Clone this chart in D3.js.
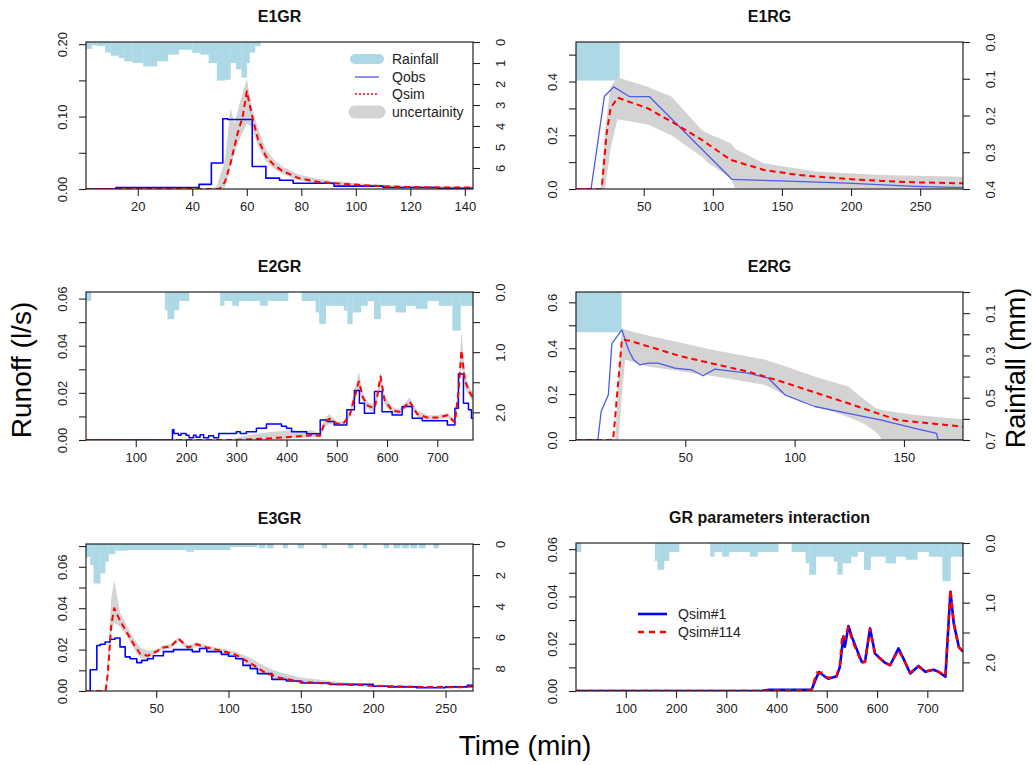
<!DOCTYPE html>
<html>
<head>
<meta charset="utf-8">
<script src="https://cdn.jsdelivr.net/npm/d3@7"></script>
<style>
  body { margin: 0; background: #fff; }
</style>
</head>
<body>
<script>
// ---- data ----
// rainfall: [start minute, depth mm] steps (depth holds until next start)
const e1grRain = [[1,0.33],[3,0.16],[5,0.2],[8,0.5],[10,0.65],[13,0.76],[15,0.92],[18,1.0],[22,1.16],[27,0.92],[31,0.6],[35,0.37],[40,0.52],[43,0.6],[46,1.0],[49,1.84],[52,1.8],[54,1.0],[56,1.3],[58,1.7],[60,1.0],[61,0.5],[63,0.2],[65,0]];
const e1grQobs = [[1,0],[12,0.002],[42.5,0.0064],[47,0.036],[51.2,0.097],[53,0.096],[62,0.031],[67,0.015],[72,0.012],[77,0.008],[92,0.004],[110,0.002],[130,0.001],[143,0.001]];
const e1grQsim = [[1,0],[50,0],[52,0.01],[54,0.035],[56.5,0.075],[58.5,0.1],[60,0.135],[62,0.1],[64,0.07],[67,0.045],[70,0.033],[73,0.025],[79,0.015],[86,0.01],[92,0.008],[104,0.005],[116,0.003],[130,0.002],[143,0.002]];
// uncertainty band: [minute, low, high]
const e1grBand = [[1,0,0],[47,0,0],[49,0,0.004],[52,0.002,0.04],[54,0.03,0.112],[55.5,0.05,0.09],[57.5,0.07,0.12],[60,0.09,0.152],[62,0.085,0.11],[64,0.06,0.085],[67,0.038,0.055],[70,0.028,0.04],[73,0.021,0.031],[79,0.012,0.02],[86,0.008,0.014],[92,0.006,0.011],[104,0.003,0.007],[116,0.002,0.005],[130,0.001,0.004],[143,0.001,0.003]];

const e1rgRain = [[1,0.105],[32.4,0]];
const e1rgQobs = [[1,0],[11.9,0],[21.5,0.344],[28.3,0.38],[39.6,0.344],[54,0.344],[113.8,0.036],[149,0.03],[197,0.022],[246,0.01],[281,0.005]];
const e1rgQsim = [[1,0],[19.6,0],[23,0.2],[26,0.3],[31,0.34],[53,0.3],[72,0.245],[92,0.183],[113,0.108],[137,0.071],[162,0.052],[198,0.037],[222,0.03],[246,0.025],[281,0.021]];
const e1rgBand = [[1,0,0],[19,0,0],[22,0,0.22],[26,0.15,0.38],[31,0.26,0.416],[53,0.24,0.38],[70,0.2,0.344],[92,0.12,0.22],[96,0.1,0.207],[113,0.04,0.17],[116,0.003,0.15],[137,0.002,0.096],[174,0.002,0.065],[222,0.002,0.052],[281,0.002,0.046]];

// E2 event rainfall (same storm in E2GR and the interaction panel)
const e2Rain = [[1,0.15],[11,0],[158,0.3],[163,0.45],[176,0.3],[186,0.15],[206,0],[268,0.23],[276,0.15],[292,0.23],[305,0.15],[347,0.23],[362,0.15],[403,0],[430,0.15],[458,0.34],[465,0.53],[478,0.23],[514,0.31],[521,0.53],[531,0.34],[548,0.23],[561,0.15],[574,0.45],[587,0.23],[617,0.34],[637,0.23],[657,0.28],[680,0.15],[703,0.23],[730,0.64],[746,0.23],[772,0]];
const e2grQobs = [[1,0],[173,0.0043],[176,0.0028],[185,0.002],[190,0.0028],[200,0.002],[206,0.001],[215,0.002],[220,0.0012],[228,0.0022],[235,0.001],[245,0.0018],[255,0.001],[265,0.0028],[300,0.0035],[308,0.0028],[320,0.0035],[340,0.005],[360,0.0068],[390,0.0058],[400,0.005],[410,0.0035],[440,0.0026],[467,0.0085],[480,0.0078],[495,0.0064],[520,0.0128],[535,0.021],[545,0.0156],[555,0.0113],[575,0.0206],[590,0.012],[610,0.0106],[630,0.0142],[650,0.0092],[670,0.0082],[720,0.0064],[735,0.0135],[742,0.028],[752,0.0156],[762,0.0128],[768,0.0092],[772,0.0092]];
const e2grQsim = [[1,0],[300,0],[350,0.0005],[400,0.0012],[450,0.002],[467,0.0018],[475,0.007],[485,0.009],[500,0.007],[512,0.0068],[525,0.01],[535,0.018],[544,0.0248],[552,0.018],[562,0.0145],[575,0.0135],[580,0.018],[587,0.027],[595,0.017],[610,0.0125],[625,0.012],[645,0.0163],[660,0.011],[680,0.0095],[700,0.0095],[720,0.0105],[735,0.0075],[742,0.02],[748,0.038],[755,0.025],[765,0.02],[771,0.018]];
const e2grBand = [[1,0,0],[290,0,0],[300,0,0.001],[350,0,0.003],[400,0.0005,0.004],[450,0.0012,0.004],[467,0.001,0.003],[475,0.005,0.009],[485,0.007,0.011],[500,0.006,0.008],[512,0.006,0.008],[525,0.009,0.012],[535,0.016,0.021],[544,0.021,0.029],[552,0.016,0.02],[562,0.013,0.016],[575,0.012,0.015],[580,0.016,0.02],[587,0.023,0.029],[595,0.015,0.019],[610,0.011,0.014],[625,0.011,0.013],[645,0.0145,0.018],[660,0.0098,0.0125],[680,0.0085,0.0105],[700,0.0085,0.0105],[720,0.0095,0.0115],[735,0.0065,0.0085],[742,0.017,0.024],[748,0.033,0.046],[755,0.022,0.028],[765,0.018,0.022],[771,0.016,0.02]];

const e2rgRain = [[0,0.19],[20.7,0]];
const e2rgQobs = [[0,0],[10,0],[11.5,0.124],[14.8,0.197],[16.4,0.42],[21,0.48],[24,0.393],[26.3,0.35],[29.3,0.327],[33,0.335],[37.6,0.335],[45.2,0.313],[52.8,0.306],[58.1,0.28],[63.5,0.309],[78.7,0.291],[87.9,0.27],[95.5,0.197],[109.2,0.146],[124.5,0.116],[139.7,0.087],[155,0.051],[164.9,0.029],[165.6,0],[177,0]];
const e2rgQsim = [[0,0],[17,0],[21,0.437],[24,0.434],[48.3,0.364],[78.7,0.298],[93.9,0.255],[124.5,0.16],[147,0.087],[177,0.058]];
const e2rgBand = [[0,0,0],[18,0,0],[19.5,0,0.3],[21,0.2,0.488],[22.5,0.35,0.48],[33,0.32,0.455],[64,0.277,0.39],[86.5,0.24,0.35],[94,0.204,0.327],[109,0.15,0.277],[124.5,0.1,0.233],[132,0.07,0.175],[137,0.036,0.14],[140,0.003,0.131],[155,0.003,0.109],[177,0.003,0.09]];

const e3grRain = [[1.5,0.82],[4.4,1.35],[6.7,2.54],[11.3,1.9],[14.7,1.14],[17,0.65],[21.6,0.43],[29.7,0.39],[71,0.5],[75.8,0.39],[101,0.2],[119.6,0],[120.8,0.28],[125.4,0],[126.5,0.28],[131.1,0],[137.6,0.28],[140.8,0],[147.9,0.28],[151.9,0],[164.6,0.28],[168,0],[182.5,0.28],[186,0],[193,0.28],[195.7,0],[207.2,0.28],[210.7,0],[214,0.28],[218.7,0],[219.8,0.28],[224.5,0],[225.6,0.28],[230.2,0],[231.4,0.28],[236,0],[241.8,0.28],[245.2,0]];
const e3grQobs = [[1.5,0],[4.4,0.0103],[9,0.022],[11.3,0.0226],[14.7,0.0237],[18.2,0.025],[21.6,0.0256],[25,0.0213],[28.6,0.0165],[32,0.0156],[36.6,0.0137],[40,0.0148],[44,0.0156],[48,0.017],[55,0.019],[62,0.02],[75,0.019],[80,0.0205],[85,0.019],[95,0.0177],[100,0.0168],[105,0.0156],[110,0.0124],[115,0.0108],[120,0.0084],[130,0.0056],[140,0.0048],[150,0.0039],[170,0.0032],[200,0.0023],[210,0.002],[230,0.0016],[250,0.002],[265,0.0027],[269,0.0027]];
const e3grQsim = [[1.5,0],[15,0],[16.5,0.008],[19,0.032],[21,0.04],[25,0.034],[30,0.028],[35,0.022],[39,0.018],[44,0.017],[50,0.019],[55,0.021],[60,0.0215],[65.5,0.0253],[72,0.021],[78,0.0226],[85,0.021],[95,0.0195],[105,0.0175],[115,0.0135],[125,0.009],[135,0.0065],[150,0.0045],[175,0.0033],[200,0.0025],[230,0.002],[260,0.0018],[269,0.0022]];
const e3grBand = [[1.5,0,0],[15,0,0],[16.5,0.004,0.015],[19,0.028,0.045],[21,0.033,0.0535],[25,0.031,0.038],[30,0.026,0.031],[35,0.02,0.025],[39,0.016,0.021],[44,0.0155,0.0195],[50,0.018,0.02],[55,0.0198,0.0222],[60,0.0205,0.0225],[65.5,0.024,0.026],[72,0.0198,0.022],[78,0.0215,0.0235],[85,0.02,0.022],[95,0.0185,0.0205],[105,0.016,0.019],[115,0.012,0.016],[125,0.008,0.012],[135,0.0055,0.009],[150,0.0038,0.0065],[175,0.0028,0.0045],[200,0.0021,0.0032],[230,0.0017,0.0025],[260,0.0015,0.0022],[269,0.0019,0.0026]];

const qsim1 = [[1,0],[370,0],[385,0.0005],[465,0.0005],[470,0.0006],[480,0.006],[484.6,0.008],[496.6,0.006],[503,0.0052],[519.6,0.0062],[526,0.0102],[533,0.023],[536,0.0187],[543,0.0275],[549.6,0.023],[569.6,0.0123],[576,0.0123],[586,0.0265],[596,0.0158],[616,0.0119],[626,0.0109],[642.6,0.018],[652.6,0.0137],[666,0.0074],[682.6,0.0106],[696,0.0081],[712.6,0.009],[722.6,0.0081],[736,0.006],[746,0.042],[752.6,0.0286],[762.6,0.0187],[771,0.0166]];
const qsim114 = [[1,0],[370,0],[385,0.0003],[465,0.0003],[470,0.0008],[480,0.0078],[484.6,0.0075],[490,0.0078],[496.6,0.0062],[503,0.0055],[519.6,0.0065],[526,0.011],[531,0.024],[536,0.022],[543,0.027],[549.6,0.022],[569.6,0.0118],[576,0.0125],[586,0.0262],[596,0.0155],[616,0.0118],[626,0.011],[642.6,0.0172],[652.6,0.0135],[666,0.0078],[682.6,0.0104],[696,0.0082],[712.6,0.0092],[722.6,0.0082],[736,0.0062],[746,0.043],[752.6,0.0288],[762.6,0.0185],[771,0.0168]];

// tick values and their printed text ("" = tick without label)
const e1grXTicks = [20,40,60,80,100,120,140];
const e1grYTicks = [0,0.05,0.1,0.15,0.2], e1grYText = ["0.00","","0.10","","0.20"];
const e1grRTicks = [0,1,2,3,4,5,6], e1grRText = ["0","1","2","3","4","5","6"];
const e1rgXTicks = [50,100,150,200,250];
const e1rgYTicks = [0,0.1,0.2,0.3,0.4,0.5], e1rgYText = ["0.0","","0.2","","0.4",""];
const e1rgRTicks = [0,0.1,0.2,0.3,0.4], e1rgRText = ["0.0","0.1","0.2","0.3","0.4"];
const e2XTicks = [100,200,300,400,500,600,700];
const e2YTicks = [0,0.01,0.02,0.03,0.04,0.05,0.06], e2YText = ["0.00","","0.02","","0.04","","0.06"];
const e2RTicks = [0,0.5,1,1.5,2], e2RText = ["0.0","","1.0","","2.0"];
const e2rgXTicks = [50,100,150];
const e2rgYTicks = [0,0.1,0.2,0.3,0.4,0.5,0.6], e2rgYText = ["0.0","","0.2","","0.4","","0.6"];
const e2rgRTicks = [0,0.1,0.2,0.3,0.4,0.5,0.6,0.7], e2rgRText = ["","0.1","","0.3","","0.5","","0.7"];
const e3grXTicks = [50,100,150,200,250];
const e3grYTicks = [0,0.01,0.02,0.03,0.04,0.05,0.06,0.07], e3grYText = ["0.00","","0.02","","0.04","","0.06",""];
const e3grRTicks = [0,2,4,6,8], e3grRText = ["0","2","4","6","8"];

const FONT = "'Liberation Sans', Arial, Helvetica, sans-serif";
const RAIN_COL = "#add8e6", BAND_COL = "#d3d3d3";

let svg = d3.select("body")
  .append("svg")
  .attr("width", 1033)
  .attr("height", 765)
  .style("font-family", FONT);

const panels = [
  {title: "E1GR", box: [86, 42, 473, 189], xDomain: [1, 143], yDomain: [0, 0.203], rDomain: [0, 7],
   xTicks: e1grXTicks, yTicks: e1grYTicks, yText: e1grYText, rTicks: e1grRTicks, rText: e1grRText,
   rain: e1grRain, band: e1grBand,
   lines: [{data: e1grQobs, color: "#0000ff", width: 1.6, step: true},
           {data: e1grQsim, color: "#ff0000", width: 2, dash: "6,4"}]},
  {title: "E1RG", box: [576, 42, 963, 189], xDomain: [1, 281], yDomain: [0, 0.547], rDomain: [0, 0.4],
   xTicks: e1rgXTicks, yTicks: e1rgYTicks, yText: e1rgYText, rTicks: e1rgRTicks, rText: e1rgRText,
   rain: e1rgRain, band: e1rgBand,
   lines: [{data: e1rgQobs, color: "#4d5be6", width: 1.3},
           {data: e1rgQsim, color: "#ff0000", width: 2, dash: "6,4"}]},
  {title: "E2GR", box: [86, 292, 473, 440], xDomain: [1, 771], yDomain: [0, 0.0628], rDomain: [0, 2.46],
   xTicks: e2XTicks, yTicks: e2YTicks, yText: e2YText, rTicks: e2RTicks, rText: e2RText,
   rain: e2Rain, band: e2grBand,
   lines: [{data: e2grQobs, color: "#0000ff", width: 1.5, step: true},
           {data: e2grQsim, color: "#ff0000", width: 2, dash: "6,4"}]},
  {title: "E2RG", box: [576, 292, 963, 440], xDomain: [0, 177], yDomain: [0, 0.645], rDomain: [0, 0.7],
   xTicks: e2rgXTicks, yTicks: e2rgYTicks, yText: e2rgYText, rTicks: e2rgRTicks, rText: e2rgRText,
   rain: e2rgRain, band: e2rgBand,
   lines: [{data: e2rgQobs, color: "#4d5be6", width: 1.3},
           {data: e2rgQsim, color: "#ff0000", width: 2, dash: "6,4"}]},
  {title: "E3GR", box: [86, 544, 473, 691], xDomain: [1.5, 269], yDomain: [0, 0.071], rDomain: [0, 9.46],
   xTicks: e3grXTicks, yTicks: e3grYTicks, yText: e3grYText, rTicks: e3grRTicks, rText: e3grRText,
   rain: e3grRain, band: e3grBand,
   lines: [{data: e3grQobs, color: "#0000ff", width: 1.6, step: true},
           {data: e3grQsim, color: "#ff0000", width: 2, dash: "6,4"}]},
  {title: "GR parameters interaction", box: [576, 543, 963, 691], xDomain: [1, 771], yDomain: [0, 0.0626], rDomain: [0, 2.48],
   xTicks: e2XTicks, yTicks: e2YTicks, yText: e2YText, rTicks: e2RTicks, rText: e2RText,
   rain: e2Rain, band: null,
   lines: [{data: qsim1, color: "#0000ff", width: 2.6},
           {data: qsim114, color: "#ff0000", width: 2.4, dash: "6,5"}]}
];

panels.forEach(drawPanel);

function drawPanel(p, i) {
  let [x0, y0, x1, y1] = p.box;
  let x = d3.scaleLinear().domain(p.xDomain).range([x0, x1]);
  let y = d3.scaleLinear().domain(p.yDomain).range([y1, y0]);
  let r = d3.scaleLinear().domain(p.rDomain).range([y0, y1]);   // rainfall hangs from the top

  svg.append("clipPath")
      .attr("id", "clip" + i)
    .append("rect")
      .attr("x", x0).attr("y", y0)
      .attr("width", x1 - x0).attr("height", y1 - y0);

  let g = svg.append("g").attr("clip-path", `url(#clip${i})`);

  // rainfall bars
  let steps = p.rain.slice(0, -1).map((d, k) => [d[0], p.rain[k + 1][0], d[1]]);
  g.selectAll("rect.rain")
    .data(steps.filter(d => d[2] > 0))
    .enter()
    .append("rect")
      .attr("class", "rain")
      .attr("fill", RAIN_COL)
      .attr("x", d => x(d[0]))
      .attr("y", y0)
      .attr("width", d => x(d[1]) - x(d[0]) + 0.3)
      .attr("height", d => r(d[2]) - y0);

  // uncertainty band
  if (p.band) {
    g.append("path")
      .datum(p.band)
      .attr("fill", BAND_COL)
      .attr("d", d3.area()
        .x(d => x(d[0]))
        .y0(d => y(d[1]))
        .y1(d => y(d[2])));
  }

  p.lines.forEach(function(s) {
    let line = d3.line()
      .x(d => x(d[0]))
      .y(d => y(d[1]))
      .curve(s.step ? d3.curveStepAfter : d3.curveLinear);
    g.append("path")
      .datum(s.data)
      .attr("fill", "none")
      .attr("stroke", s.color)
      .attr("stroke-width", s.width)
      .attr("stroke-dasharray", s.dash || null)
      .attr("stroke-linejoin", "round")
      .attr("d", line);
  });

  // frame
  svg.append("rect")
    .attr("x", x0).attr("y", y0)
    .attr("width", x1 - x0).attr("height", y1 - y0)
    .attr("fill", "none")
    .attr("stroke", "#222")
    .attr("stroke-width", 1.2);

  // axes
  let bottom = svg.append("g")
    .attr("transform", `translate(0,${y1})`)
    .call(d3.axisBottom(x).tickValues(p.xTicks).tickSize(7).tickPadding(6).tickFormat(d3.format("d")));

  let left = svg.append("g")
    .attr("transform", `translate(${x0},0)`)
    .call(d3.axisLeft(y).tickValues(p.yTicks).tickSize(7).tickFormat((d, k) => p.yText[k]));
  left.selectAll(".tick text")
    .attr("x", 0).attr("dy", 0)
    .attr("text-anchor", "middle")
    .attr("transform", "translate(-19,0) rotate(-90)");

  let right = svg.append("g")
    .attr("transform", `translate(${x1},0)`)
    .call(d3.axisRight(r).tickValues(p.rTicks).tickSize(7).tickFormat((d, k) => p.rText[k]));
  right.selectAll(".tick text")
    .attr("x", 0).attr("dy", 0)
    .attr("text-anchor", "middle")
    .attr("transform", "translate(32,0) rotate(-90)");

  [bottom, left, right].forEach(function(a) {
    a.select(".domain").remove();
    a.attr("font-family", FONT).attr("font-size", 13);
    a.selectAll(".tick line").attr("stroke", "#222").attr("stroke-width", 1.1);
    a.selectAll(".tick text").attr("fill", "#222");
  });

  svg.append("text")
    .attr("x", (x0 + x1) / 2)
    .attr("y", y0 - 20)
    .attr("text-anchor", "middle")
    .style("font-size", "16px")
    .style("font-weight", "bold")
    .attr("fill", "#111")
    .text(p.title);
}

// legend of E1GR
const legend1 = [
  {label: "Rainfall", color: RAIN_COL, width: 10, dash: null, y: 59},
  {label: "Qobs", color: "#3b48e0", width: 1.2, dash: null, y: 77},
  {label: "Qsim", color: "#ff0000", width: 1.6, dash: "2,2", y: 94},
  {label: "uncertainity", color: BAND_COL, width: 13, dash: null, y: 112}
];
let lg1 = svg.append("g");
legend1.forEach(function(d) {
  lg1.append("line")
    .attr("x1", 355).attr("x2", 379)
    .attr("y1", d.y).attr("y2", d.y)
    .attr("stroke", d.color)
    .attr("stroke-width", d.width)
    .attr("stroke-linecap", d.width > 5 ? "round" : "butt")
    .attr("stroke-dasharray", d.dash);
  lg1.append("text")
    .attr("x", 392).attr("y", d.y)
    .attr("dy", "0.35em")
    .style("font-size", "14px")
    .attr("fill", "#222")
    .text(d.label);
});

// legend of the interaction panel
const legend6 = [
  {label: "Qsim#1", color: "#0000ff", dash: null, y: 614},
  {label: "Qsim#114", color: "#ff0000", dash: "6,5", y: 632}
];
let lg6 = svg.append("g");
legend6.forEach(function(d) {
  lg6.append("line")
    .attr("x1", 638).attr("x2", 667)
    .attr("y1", d.y).attr("y2", d.y)
    .attr("stroke", d.color)
    .attr("stroke-width", 2.6)
    .attr("stroke-dasharray", d.dash);
  lg6.append("text")
    .attr("x", 678).attr("y", d.y)
    .attr("dy", "0.35em")
    .style("font-size", "14px")
    .attr("fill", "#222")
    .text(d.label);
});

// shared axis titles
svg.append("text")
  .attr("transform", "translate(31,370) rotate(-90)")
  .attr("text-anchor", "middle")
  .style("font-size", "28px")
  .text("Runoff (l/s)");

svg.append("text")
  .attr("transform", "translate(1025,368) rotate(-90)")
  .attr("text-anchor", "middle")
  .style("font-size", "27px")
  .text("Rainfall (mm)");

svg.append("text")
  .attr("x", 525)
  .attr("y", 755)
  .attr("text-anchor", "middle")
  .style("font-size", "28px")
  .text("Time (min)");
</script>
</body>
</html>
